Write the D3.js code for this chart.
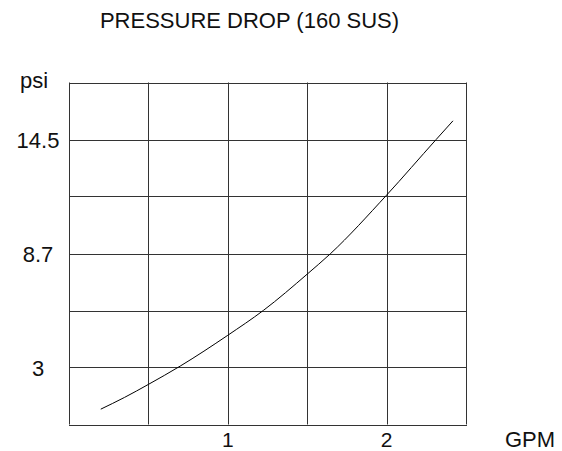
<!DOCTYPE html>
<html><head><meta charset="utf-8">
<script src="https://cdn.jsdelivr.net/npm/d3@7"></script>
<style>body{margin:0;background:#fff}svg{display:block}text{font-family:"Liberation Sans",Arial,sans-serif;fill:#111}</style>
</head><body>
<script>
const flowGPM = [0.2, 0.35, 0.5, 0.7, 1.0, 1.225, 1.5, 1.645, 2.0, 2.312, 2.418];
const pressurePsi = [0.78, 1.38, 2.04, 2.97, 4.54, 5.81, 7.65, 8.68, 11.67, 14.5, 15.45];
const xGridValues = [0, 0.5, 1, 1.5, 2, 2.5];
const yGridValues = [0, 2.9, 5.8, 8.7, 11.6, 14.5, 17.4];
const xTickValues = [1, 2];
const xTickLabels = ["1", "2"];
const yTickValues = [2.9, 8.7, 14.5];
const yTickLabels = ["3", "8.7", "14.5"];

const W = 562, H = 451;
const svg = d3.select("body").append("svg").attr("width", W).attr("height", H);
const x = d3.scaleLinear().domain([0, 2.5]).range([69, 466]);
const y = d3.scaleLinear().domain([0, 17.4]).range([424.5, 82.5]);

const g = svg.append("g");
g.selectAll("line.v").data(xGridValues).enter().append("line")
  .attr("x1", d => Math.round(x(d)) + 0.5).attr("x2", d => Math.round(x(d)) + 0.5)
  .attr("y1", y(17.4)).attr("y2", y(0))
  .attr("stroke", "#333").attr("stroke-width", 1);
g.selectAll("line.h").data(yGridValues).enter().append("line")
  .attr("y1", d => Math.round(y(d)) + 0.5).attr("y2", d => Math.round(y(d)) + 0.5)
  .attr("x1", x(0)).attr("x2", x(2.5) + 1)
  .attr("stroke", "#333").attr("stroke-width", 1);

const line = d3.line().x((d, i) => x(flowGPM[i])).y(d => y(d)).curve(d3.curveMonotoneX);
svg.append("path").attr("d", line(pressurePsi)).attr("fill", "none")
  .attr("stroke", "#000").attr("stroke-width", 1);

svg.selectAll("text.xt").data(xTickValues).enter().append("text")
  .attr("x", d => x(d)).attr("y", 447).attr("text-anchor", "middle")
  .attr("font-size", 21).text((d, i) => xTickLabels[i]);
svg.selectAll("text.yt").data(yTickValues).enter().append("text")
  .attr("x", 38).attr("y", d => y(d) + 8).attr("text-anchor", "middle")
  .attr("font-size", 22).text((d, i) => yTickLabels[i]);

svg.append("text").attr("x", 249.5).attr("y", 28).attr("text-anchor", "middle")
  .attr("font-size", 22).text("PRESSURE DROP (160 SUS)");
svg.append("text").attr("x", 20).attr("y", 88).attr("font-size", 22).text("psi");
svg.append("text").attr("x", 505).attr("y", 447).attr("font-size", 22).text("GPM");
</script>
</body></html>
